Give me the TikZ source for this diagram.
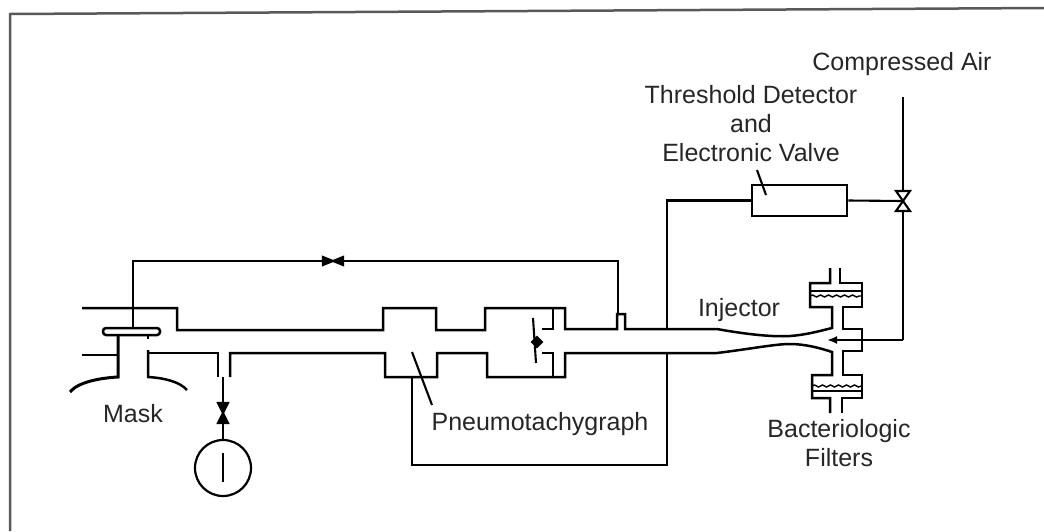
\documentclass[tikz,border=0pt]{standalone}
\usepackage{fontspec}
\setmainfont{Liberation Sans}
\usetikzlibrary{arrows.meta}
\usetikzlibrary{shapes.geometric}
\usetikzlibrary{decorations.pathmorphing}
\tikzset{
  pipe/.style={line width=2.5pt, line join=miter},
  thin pipe/.style={line width=2.1pt},
  label text/.style={inner sep=0pt, text=black!85, font=\fontsize{25}{29}\selectfont, align=center},
  valve v/.pic={\draw [thin pipe, fill=black] (-5,-10) -- (5,-10) -- (-5,10) -- (5,10) -- cycle;},
  valve open/.pic={\draw [thin pipe, fill=white] (-7,-10) -- (7,-10) -- (-7,10) -- (7,10) -- cycle;},
  valve h/.pic={\draw [thin pipe, fill=black] (-10,-4) -- (-10,4) -- (10,-4) -- (10,4) -- cycle;},
  wave/.style={line width=1.4pt, decorate, decoration={snake, amplitude=1pt, segment length=8pt}},
}
\begin{document}
\begin{tikzpicture}[x=1pt,y=-1pt]
      \useasboundingbox (0,0) rectangle (1044,531);
      % frame
      \draw [line width=2.5pt, black!65] (10,531) -- (10,14) -- (1044,8);
      % labels
      \node (maskLabel) [label text] at (133,414) {Mask};
      \node (pneumoLabel) [label text] at (540,424) {Pneumotachygraph};
      \node (injectorLabel) [label text] at (739,310) {Injector};
      \node (filterLabel) [label text] at (839,443) {Bacteriologic\\Filters};
      \node (airLabel) [label text] at (902,64) {Compressed Air};
      \node (detectorLabel) [label text] at (751,124) {Threshold Detector\\and\\Electronic Valve};
      % detector, gauge
      \node (detector) [draw, pipe, minimum width=95pt, minimum height=31pt, inner sep=0pt] at (799.5,200.5) {};
      \node (gauge) [draw, circle, line width=2.2pt, minimum size=56pt, inner sep=0pt] at (223,468) {};
      \coordinate (airIn) at (903,97);
      \coordinate (airValve) at (903,201);
      \coordinate (airBend) at (903,340);
      \coordinate (airOut) at (827,340);
      \coordinate (gaugeValve) at (223,413);
      \coordinate (gaugeTap) at (223,377);
      \coordinate (bypassValve) at (333,261);
      \coordinate (maskPlate) at (133,328);
      % upper wall of the tube
      \draw [pipe] (82,308) -- (177,308) -- (177,330) -- (383,330) -- (383,308) -- (436,308) -- (436,330)
        -- (485,330) -- (485,308) -- (565,308) -- (565,329) -- (617,329) -- (617,314) -- (625,314) -- (625,329) -- (717,329)
        .. controls (750,335) and (775,337) .. (790,336) .. controls (805,335) and (820,331) .. (832,328) -- (832,307)
        -- (810,307) -- (810,283) -- (830,283) -- (830,268);
      \draw [pipe] (840,268) -- (840,283) -- (862,283) -- (862,307) -- (843,307) -- (843,329) -- (862,329) -- (862,351)
        -- (843,351) -- (843,375) -- (862,375) -- (862,398) -- (842,398) -- (842,413);
      % lower wall of the tube
      \draw [pipe] (148,350) -- (148,377) .. controls (165,378) and (180,382) .. (187,390);
      \draw [pipe] (148,353) -- (218,353) -- (218,377);
      \draw [pipe] (230,377) -- (230,353) -- (385,353) -- (385,377) -- (437,377) -- (437,353) -- (487,353) -- (487,377)
        -- (565,377) -- (565,353) -- (717,353) .. controls (750,349) and (775,344) .. (790,344)
        .. controls (805,344) and (820,348) .. (832,352) -- (832,375) -- (812,375) -- (812,398) -- (830,398) -- (830,413);
      % filter media
      \draw [thin pipe] (810,291) -- (862,291);
      \draw [wave] (810,296) -- (862,296);
      \draw [wave] (812,386) -- (862,386);
      \draw [thin pipe] (812,391) -- (862,391);
      % mask
      \draw [pipe, rounded corners=3pt] (103,328) rectangle (160,335);
      \draw [pipe] (148,335) -- (148,339);
      \draw [line width=3pt] (118,335) -- (118,377) .. controls (100,378) and (78,382) .. (70,392);
      \draw [pipe] (82,355) -- (118,355);
      % pneumotachygraph septum and flap
      \draw [pipe] (553,308) -- (553,329) -- (542,329);
      \draw [pipe] (542,353) -- (553,353) -- (553,377);
      \draw [thin pipe] (533,318) -- (536,363);
      \node (flap) [fill=black, diamond, inner sep=0pt, minimum size=13pt] at (537,342) {};
      % connections
      \draw [thin pipe] (maskPlate) -- (133,261) -- (bypassValve) -- (618,261) -- (618,314);
      \pic at (bypassValve) {valve h};
      \draw [thin pipe] (gaugeTap) -- (gaugeValve) -- (gauge.north);
      \pic at (gaugeValve) {valve v};
      \draw [thin pipe] (gauge.center |- 0,453) -- (gauge.center |- 0,482);
      \draw [thin pipe] (detector.west) -- (667,200.5) -- (667,329);
      \draw [pipe] (667,353) -- (667,465) -- (412,465) -- (412,377);
      \draw [thin pipe] (detector.east) -- (airValve);
      \draw [pipe] (airIn) -- (airValve) -- (airBend);
      \pic at (airValve) {valve open};
      \draw [pipe, -{Latex[length=10pt,width=8pt]}] (airBend) -- (airOut);
      % leaders
      \draw [thin pipe] (412,352) -- (432,405);
      \draw [thin pipe] (757,170) -- (766,195);
    \end{tikzpicture}
\end{document}
